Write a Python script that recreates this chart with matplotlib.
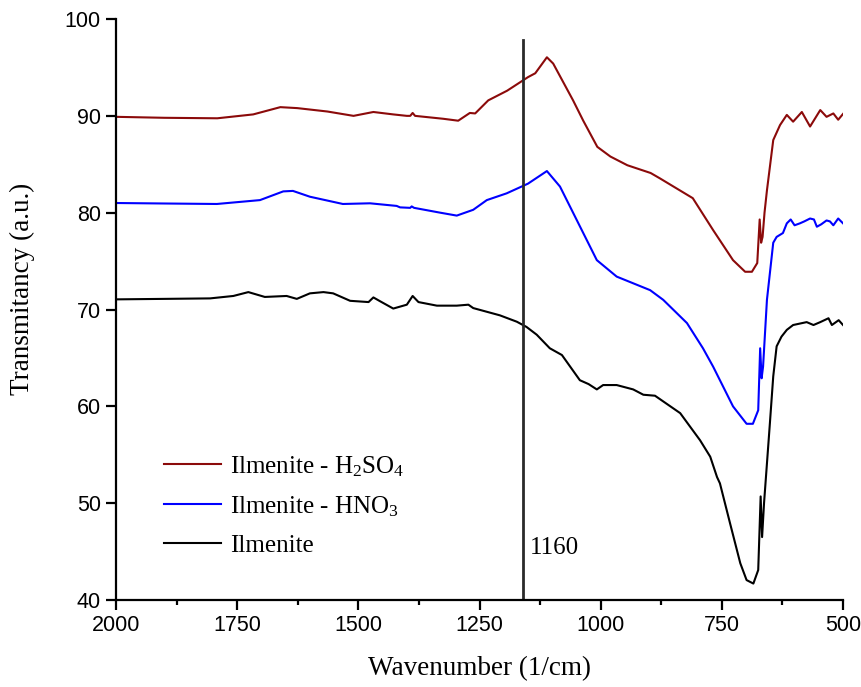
import matplotlib.pyplot as plt
from matplotlib.ticker import MultipleLocator

# FTIR spectra (wavenumber in 1/cm, transmittance in a.u.)
wn_h2so4 = [2000, 1900, 1791, 1717, 1661, 1626, 1564, 1510, 1469, 1428, 1400, 1393, 1388, 1383,
            1325, 1294, 1270, 1259, 1232, 1193, 1150, 1135, 1111, 1098, 1057, 1036, 1007, 980,
            945, 897, 878, 810, 768, 727, 702, 688, 677, 672, 669, 666, 662, 657, 644, 630,
            616, 603, 585, 568, 547, 534, 520, 510, 500]
tr_h2so4 = [89.9, 89.8, 89.75, 90.15, 90.9, 90.8, 90.45, 90.0, 90.4, 90.15, 90.0, 90.0, 90.3, 90.0,
            89.7, 89.5, 90.3, 90.25, 91.6, 92.6, 94.0, 94.4, 96.05, 95.4, 91.6, 89.5, 86.8, 85.8,
            84.9, 84.1, 83.55, 81.5, 78.2, 75.1, 73.9, 73.9, 74.8, 79.3, 76.9, 77.5, 80.0, 82.3,
            87.5, 89.05, 90.1, 89.4, 90.4, 88.9, 90.6, 89.9, 90.25, 89.6, 90.2]

wn_hno3 = [2000, 1900, 1792, 1703, 1655, 1635, 1600, 1532, 1476, 1421, 1414, 1393, 1390, 1385,
           1331, 1297, 1263, 1235, 1194, 1150, 1111, 1084, 1049, 1008, 967, 898, 871, 822, 789,
           768, 727, 699, 686, 675, 671, 668, 665, 657, 644, 637, 624, 616, 608, 600, 589, 580,
           568, 560, 554, 545, 534, 527, 520, 510, 500]
tr_hno3 = [81.0, 80.95, 80.9, 81.3, 82.2, 82.25, 81.65, 80.9, 80.97, 80.7, 80.55, 80.5, 80.65, 80.5,
           80.0, 79.7, 80.3, 81.3, 82.0, 83.0, 84.3, 82.7, 79.2, 75.1, 73.4, 72.0, 71.0, 68.6, 66.0,
           64.1, 60.0, 58.2, 58.2, 59.6, 66.0, 62.9, 64.1, 71.0, 76.9, 77.5, 77.9, 78.9, 79.3, 78.7,
           78.9, 79.1, 79.4, 79.3, 78.55, 78.8, 79.2, 79.1, 78.7, 79.4, 78.9]

wn_raw = [2000, 1900, 1806, 1758, 1727, 1693, 1648, 1627, 1600, 1572, 1552, 1517, 1479, 1469,
          1455, 1428, 1400, 1388, 1376, 1338, 1297, 1273, 1263, 1208, 1173, 1153, 1132, 1105,
          1080, 1043, 1025, 1008, 995, 967, 933, 912, 888, 836, 795, 774, 760, 754, 733, 712,
          699, 685, 675, 670, 667, 663, 651, 644, 637, 627, 616, 603, 575, 561, 547, 530, 523,
          509, 500]
tr_raw = [71.05, 71.1, 71.15, 71.4, 71.8, 71.3, 71.4, 71.1, 71.67, 71.8, 71.67, 70.9, 70.77, 71.25,
          70.85, 70.1, 70.5, 71.4, 70.77, 70.4, 70.4, 70.5, 70.15, 69.4, 68.74, 68.2, 67.4, 66.0,
          65.3, 62.7, 62.3, 61.75, 62.2, 62.2, 61.75, 61.2, 61.1, 59.3, 56.5, 54.8, 52.7, 52.05,
          47.9, 43.8, 42.06, 41.7, 43.1, 50.7, 46.5, 50.0, 58.2, 63.1, 66.2, 67.2, 67.9, 68.4,
          68.7, 68.4, 68.7, 69.1, 68.4, 68.9, 68.4]

marker_wn = 1160
marker_top = 97.8

plt.rcParams['mathtext.fontset'] = 'custom'
plt.rcParams['mathtext.rm'] = 'Liberation Serif'
plt.rcParams['mathtext.it'] = 'Liberation Serif:italic'

fig = plt.figure(figsize=(8.62, 6.87), dpi=100)
ax = fig.add_axes([0.1346, 0.1266, 0.8434, 0.8457])

l_raw, = ax.plot(wn_raw, tr_raw, color='black', lw=1.5, label='Ilmenite')
l_hno3, = ax.plot(wn_hno3, tr_hno3, color='#0000ff', lw=1.5, label=r'Ilmenite - HNO$_\mathregular{3}$')
l_h2so4, = ax.plot(wn_h2so4, tr_h2so4, color='#8b0a0a', lw=1.5,
                   label=r'Ilmenite - H$_\mathregular{2}$SO$_\mathregular{4}$')

ax.plot([marker_wn, marker_wn], [40, marker_top], color='#2a2a2a', lw=2)
ax.text(marker_wn - 14, 45.4, str(marker_wn), family='Liberation Serif', fontsize=18,
        va='center', ha='left')

ax.set_xlim(2000, 500)
ax.set_ylim(40, 100)
ax.xaxis.set_major_locator(MultipleLocator(250))
ax.xaxis.set_minor_locator(MultipleLocator(125))
ax.yaxis.set_major_locator(MultipleLocator(10))

for s in ['top', 'right']:
    ax.spines[s].set_visible(False)
for s in ['left', 'bottom']:
    ax.spines[s].set_linewidth(1.6)

ax.tick_params(which='major', length=7, width=1.6, direction='out', labelsize=15.5, pad=4)
ax.tick_params(which='minor', length=3.5, width=1.6, direction='out')
for lab in ax.get_xticklabels() + ax.get_yticklabels():
    lab.set_family('Liberation Sans')

ax.set_xlabel('Wavenumber (1/cm)', family='Liberation Serif', fontsize=19.5, labelpad=14)
ax.set_ylabel('Transmitancy (a.u.)', family='Liberation Serif', fontsize=19.5)
ax.yaxis.set_label_coords(-0.112, 0.535)

ax.legend(handles=[l_h2so4, l_hno3, l_raw], loc='upper left', bbox_to_anchor=(0.035, 0.29),
          frameon=False, prop={'family': 'Liberation Serif', 'size': 18},
          handlelength=2.3, handletextpad=0.35, labelspacing=0.62)

plt.savefig('out.png', dpi=100)
